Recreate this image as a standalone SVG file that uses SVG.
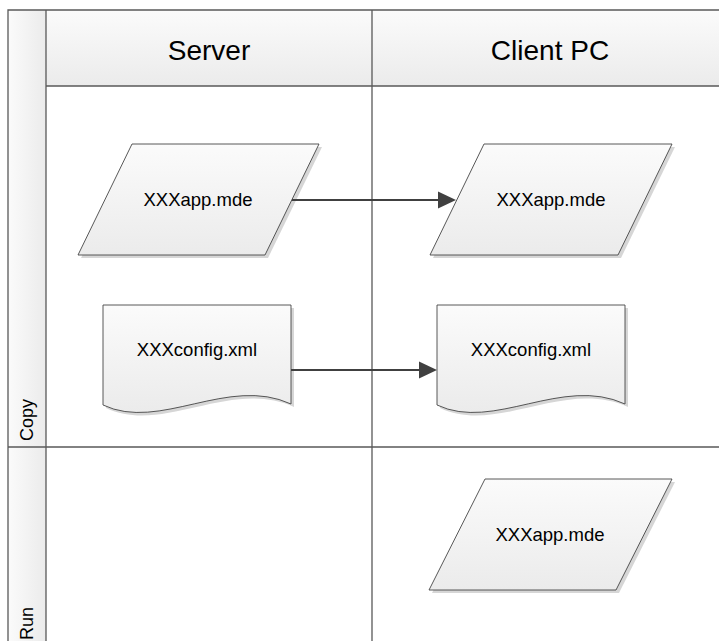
<svg xmlns="http://www.w3.org/2000/svg" width="719" height="641" viewBox="0 0 719 641">
<style>
.frame{fill:none;stroke:#595959;stroke-width:1.3}
.shape{fill:url(#nodeFill);stroke:#454545;stroke-width:0.9}
.shadow{fill:#d6d6d6;stroke:none}
.head{font-family:"Liberation Sans",Arial,sans-serif;font-size:28px;fill:#000;text-anchor:middle}
.lbl{font-family:"Liberation Sans",Arial,sans-serif;font-size:18.5px;fill:#000;text-anchor:middle}
.lane{font-family:"Liberation Sans",Arial,sans-serif;font-size:18px;fill:#000}
.conn{fill:none;stroke:#404040;stroke-width:2.2}
</style>
<defs>
<linearGradient id="nodeFill" x1="0" y1="0" x2="0" y2="1">
<stop offset="0" stop-color="#fbfbfb"/>
<stop offset="1" stop-color="#ebebeb"/>
</linearGradient>
<linearGradient id="headFill" x1="0" y1="0" x2="0" y2="1">
<stop offset="0" stop-color="#fbfbfb"/>
<stop offset="1" stop-color="#ebebeb"/>
</linearGradient>
<linearGradient id="bandFill" x1="0" y1="0" x2="1" y2="0">
<stop offset="0" stop-color="#fbfbfb"/>
<stop offset="1" stop-color="#ebebeb"/>
</linearGradient>
</defs>
<rect x="0" y="0" width="719" height="641" fill="#fff"/>
<g id="pool">
<rect x="8" y="10" width="38" height="640" fill="url(#bandFill)"/>
<rect x="46" y="10" width="690" height="76" fill="url(#headFill)"/>
<path class="frame" d="M8,660 L8,10 L740,10 M46,10 L46,660 M46,86 L740,86 M372,10 L372,660 M8,447 L740,447"/>
</g>
<g id="header-server"><text class="head" x="209" y="60">Server</text></g>
<g id="header-client"><text class="head" x="550" y="60">Client PC</text></g>
<g id="lane-copy"><text class="lane" transform="translate(33,441) rotate(-90)">Copy</text></g>
<g id="lane-run"><text class="lane" transform="translate(33,640) rotate(-90)">Run</text></g>

<g id="server-app">
<path class="shadow" d="M135,147 L322,147 L268,258 L81,258 z"/>
<path class="shape" d="M132,144 L319,144 L265,255 L78,255 z"/>
<text class="lbl" x="198" y="206">XXXapp.mde</text>
</g>
<g id="client-app">
<path class="shadow" d="M487,147 L675,147 L621,258 L433,258 z"/>
<path class="shape" d="M484,144 L672,144 L618,255 L430,255 z"/>
<text class="lbl" x="551" y="206">XXXapp.mde</text>
</g>
<g id="server-config">
<path class="shadow" d="M106,308 L294,308 L294,407 C231,378 163,435 106,408 z"/>
<path class="shape" d="M103,305 L291,305 L291,404 C228,375 160,432 103,405 z"/>
<text class="lbl" x="197" y="356">XXXconfig.xml</text>
</g>
<g id="client-config">
<path class="shadow" d="M440,308 L628,308 L628,407 C565,378 497,435 440,408 z"/>
<path class="shape" d="M437,305 L625,305 L625,404 C562,375 494,432 437,405 z"/>
<text class="lbl" x="531" y="356">XXXconfig.xml</text>
</g>
<g id="run-app">
<path class="shadow" d="M488,482 L675,482 L619,593 L432,593 z"/>
<path class="shape" d="M485,479 L672,479 L616,590 L429,590 z"/>
<text class="lbl" x="550" y="541">XXXapp.mde</text>
</g>
<g id="connectors">
<path class="conn" d="M292,200 L440,200"/>
<path d="M438,191.5 L456,200 L438,208.5 z" fill="#404040"/>
<path class="conn" d="M291,370 L421,370"/>
<path d="M419,361.5 L437,370 L419,378.5 z" fill="#404040"/>
</g>
</svg>
